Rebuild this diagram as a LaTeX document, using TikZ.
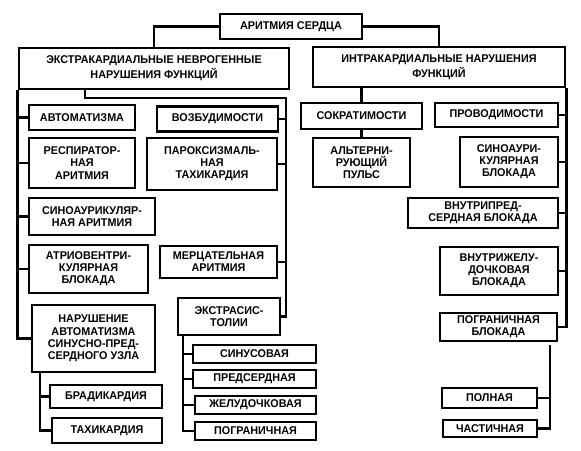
\documentclass[tikz,border=0pt]{standalone}
\usepackage{fontspec}
\setmainfont{Liberation Sans}[FakeStretch=0.96]

\begin{document}
\begin{tikzpicture}[x=0.03cm,y=-0.03cm,
  box/.style={draw,line width=2.5pt,align=center,inner sep=0pt,
    font=\bfseries\fontsize{9.6}{10.4}\selectfont},
  link/.style={line width=2.5pt}]
  \useasboundingbox (0,0) rectangle (581,451);

  % top levels
  \node[box,minimum width=4.26cm,minimum height=0.75cm] (root) at (291,26.5) {АРИТМИЯ СЕРДЦА};
  \node[box,minimum width=8.10cm,minimum height=1.23cm,
    font=\bfseries\fontsize{9.6}{12.5}\selectfont] (extra) at (154,68.5)
    {ЭКСТРАКАРДИАЛЬНЫЕ НЕВРОГЕННЫЕ\\НАРУШЕНИЯ ФУНКЦИЙ};
  \node[box,minimum width=7.56cm,minimum height=1.20cm,
    font=\bfseries\fontsize{9.6}{12.5}\selectfont] (intra) at (439,67)
    {ИНТРАКАРДИАЛЬНЫЕ НАРУШЕНИЯ\\ФУНКЦИЙ};

  \node[box,minimum width=3.18cm,minimum height=0.75cm] (avt) at (82,117.5) {АВТОМАТИЗМА};
  \node[box,minimum width=3.63cm,minimum height=0.75cm] (vozb) at (217.5,119) {ВОЗБУДИМОСТИ};
  \node[box,minimum width=3.63cm,minimum height=0.78cm] (sokr) at (361.5,116) {СОКРАТИМОСТИ};
  \node[box,minimum width=3.69cm,minimum height=0.72cm] (prov) at (496.5,115) {ПРОВОДИМОСТИ};

  % automatism
  \node[box,minimum width=3.18cm,minimum height=1.50cm] (resp) at (82,163) {РЕСПИРАТОР-\\НАЯ\\АРИТМИЯ};
  \node[box,minimum width=3.78cm,minimum height=1.11cm] (sinoar) at (92,216.5) {СИНОАУРИКУЛЯР-\\НАЯ АРИТМИЯ};
  \node[box,minimum width=3.57cm,minimum height=1.44cm] (atrio) at (88.5,269) {АТРИОВЕНТРИ-\\КУЛЯРНАЯ\\БЛОКАДА};
  \node[box,minimum width=3.69cm,minimum height=2.01cm] (narush) at (93.5,338.5)
    {НАРУШЕНИЕ\\АВТОМАТИЗМА\\СИНУСНО-ПРЕД-\\СЕРДНОГО УЗЛА};
  \node[box,minimum width=3.36cm,minimum height=0.69cm] (brad) at (106,396.5) {БРАДИКАРДИЯ};
  \node[box,minimum width=3.30cm,minimum height=0.75cm] (tahi) at (107,430.5) {ТАХИКАРДИЯ};

  % excitability
  \node[box,minimum width=3.90cm,minimum height=1.56cm] (parox) at (212,164) {ПАРОКСИЗМАЛЬ-\\НАЯ\\ТАХИКАРДИЯ};
  \node[box,minimum width=3.51cm,minimum height=0.96cm] (merc) at (218.5,262) {МЕРЦАТЕЛЬНАЯ\\АРИТМИЯ};
  \node[box,minimum width=3.06cm,minimum height=1.11cm] (extras) at (229,316.5) {ЭКСТРАСИС-\\ТОЛИИ};
  \node[box,minimum width=3.69cm,minimum height=0.54cm] (sinus) at (254.5,354) {СИНУСОВАЯ};
  \node[box,minimum width=3.69cm,minimum height=0.54cm] (predserd) at (254.5,379) {ПРЕДСЕРДНАЯ};
  \node[box,minimum width=3.63cm,minimum height=0.54cm] (zhel) at (255.5,405) {ЖЕЛУДОЧКОВАЯ};
  \node[box,minimum width=3.63cm,minimum height=0.54cm] (pogr) at (255.5,431) {ПОГРАНИЧНАЯ};

  % contractility
  \node[box,minimum width=2.91cm,minimum height=1.47cm] (altern) at (361.5,162.5) {АЛЬТЕРНИ-\\РУЮЩИЙ\\ПУЛЬС};

  % conduction
  \node[box,minimum width=2.94cm,minimum height=1.50cm] (sinobl) at (509,162) {СИНОАУРИ-\\КУЛЯРНАЯ\\БЛОКАДА};
  \node[box,minimum width=4.50cm,minimum height=0.90cm] (vnpred) at (483,213) {ВНУТРИПРЕД-\\СЕРДНАЯ БЛОКАДА};
  \node[box,minimum width=3.54cm,minimum height=1.44cm] (vnzhel) at (499,271) {ВНУТРИЖЕЛУ-\\ДОЧКОВАЯ\\БЛОКАДА};
  \node[box,minimum width=3.51cm,minimum height=0.84cm] (pogrbl) at (498.5,327) {ПОГРАНИЧНАЯ\\БЛОКАДА};
  \node[box,minimum width=2.85cm,minimum height=0.60cm] (poln) at (489.5,398) {ПОЛНАЯ};
  \node[box,minimum width=2.82cm,minimum height=0.51cm] (chast) at (490,428.5) {ЧАСТИЧНАЯ};

  % bus points
  \coordinate (vdrop) at (85,89);
  \coordinate (vknee) at (286,98);
  \coordinate (nb) at (40,372);
  \coordinate (eb) at (183,335);
  \coordinate (pb) at (550,345);

  % connectors
  \draw[link] (root.west) -| (extra.north);
  \draw[link] (root.east) -| (intra.north);

  \draw[link] (extra.south west) |- (narush.west);
  \draw[link] (avt.west) -- (avt.west -| extra.west);
  \draw[link] (resp.west) -- (resp.west -| extra.west);
  \draw[link] (sinoar.west) -- (sinoar.west -| extra.west);
  \draw[link] (atrio.west) -- (atrio.west -| extra.west);
  \draw[link] (nb) |- (tahi.west);
  \draw[link] (brad.west) -- (brad.west -| nb);

  \draw[link] (vdrop) |- (vknee) |- (extras.east);
  \draw[link] (vozb.east) -- (vozb.east -| vknee);
  \draw[link] (parox.east) -- (parox.east -| vknee);
  \draw[link] (merc.east) -- (merc.east -| vknee);
  \draw[link] (eb) |- (pogr.west);
  \draw[link] (sinus.west) -- (sinus.west -| eb);
  \draw[link] (predserd.west) -- (predserd.west -| eb);
  \draw[link] (zhel.west) -- (zhel.west -| eb);

  \draw[link] (intra.south -| sokr.north) -- (sokr.north);
  \draw[link] (sokr.south) -- (altern.north);

  \draw[link] (intra.south east) |- (pogrbl.east);
  \draw[link] (prov.east) -- (prov.east -| intra.east);
  \draw[link] (sinobl.east) -- (sinobl.east -| intra.east);
  \draw[link] (vnpred.east) -- (vnpred.east -| intra.east);
  \draw[link] (vnzhel.east) -- (vnzhel.east -| intra.east);
  \draw[link] (pb) |- (chast.east);
  \draw[link] (poln.east) -- (poln.east -| pb);
\end{tikzpicture}
\end{document}
